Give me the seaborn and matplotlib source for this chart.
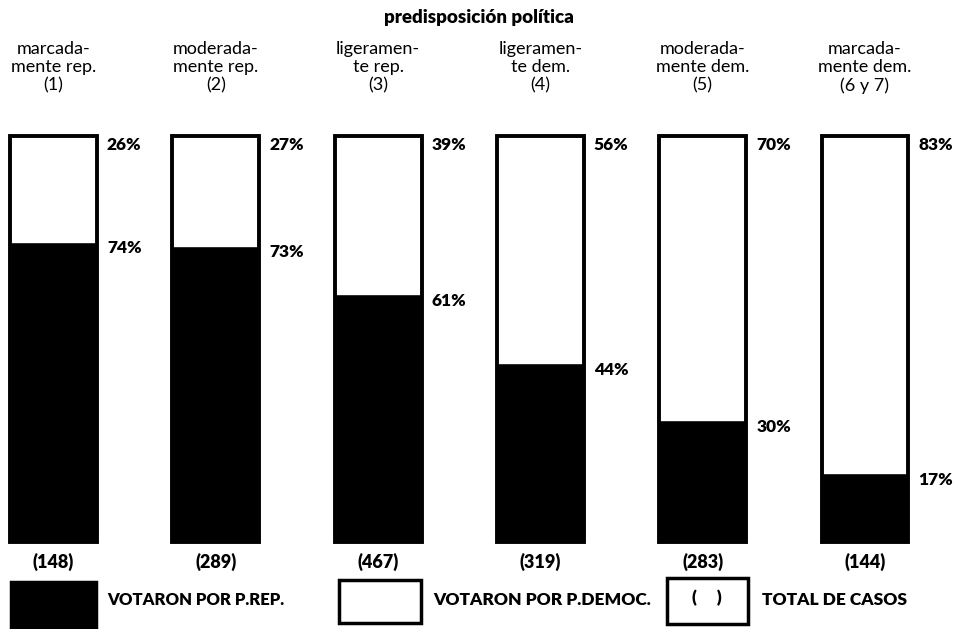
import pandas as pd
import matplotlib.pyplot as plt
import seaborn as sns
from matplotlib.patches import Rectangle

sns.set_theme(style="white")
plt.rcParams['font.family'] = ['Lato', 'DejaVu Sans']
plt.rcParams['text.color'] = 'black'

# data
categorias = [
    "marcada-\nmente rep.\n(1)",
    "moderada-\nmente rep.\n(2)",
    "ligeramen-\nte rep.\n(3)",
    "ligeramen-\nte dem.\n(4)",
    "moderada-\nmente dem.\n(5)",
    "marcada-\nmente dem.\n(6 y 7)",
]
pct_rep = [74, 73, 61, 44, 30, 17]
pct_dem = [26, 27, 39, 56, 70, 83]
total_casos = [148, 289, 467, 319, 283, 144]

df = pd.DataFrame({
    "cat": categorias,
    "rep": pct_rep,
    "dem": pct_dem,
    "total": [r + d for r, d in zip(pct_rep, pct_dem)],
})

W, H = 958, 629
fig = plt.figure(figsize=(W / 100, H / 100), dpi=100)
ax = fig.add_axes([0, 0, 1, 1])

bar_w = 0.535
# black part (rep), then outline for the whole bar
sns.barplot(data=df, x="cat", y="rep", color="black", width=bar_w,
            saturation=1, ax=ax)
sns.barplot(data=df, x="cat", y="total", fill=False, color="black",
            width=bar_w, linewidth=2.8, ax=ax)

# pixel mapping: center of bar 0 at x=53.5, spacing 162.3; y 0 at 542, 100 at 136
px_unit_x = 162.3
px_unit_y = (542 - 136) / 100
ax.set_xlim(-53.5 / px_unit_x, (W - 53.5) / px_unit_x)
ax.set_ylim(-(H - 542) / px_unit_y, 100 + 136 / px_unit_y)
ax.set_axis_off()

lbl_font = dict(fontsize=12.5, fontweight="heavy", color="black")
for i, row in df.iterrows():
    xr = i + bar_w / 2 + 10 / px_unit_x
    ax.text(xr, 100 - 0.2, f"{row['dem']}%", ha="left", va="top", **lbl_font)
    ax.text(xr, row["rep"] + 0.3, f"{row['rep']}%", ha="left", va="top", **lbl_font)
    ax.text(i, -2.6, f"({total_casos[i]})", ha="center", va="top",
            fontsize=13, fontweight="heavy")
    ax.text(i, 100 + 95 / px_unit_y, row["cat"], ha="center", va="top",
            fontsize=13, linespacing=1.15, color="black")

fig.text(0.5, 1 - 18 / H, "predisposición política", ha="center", va="center",
         fontsize=13.5, fontweight="heavy")

# legend drawn in figure pixels
def box(x0, y0, x1, y1, filled):
    fig.patches.append(Rectangle((x0 / W, 1 - y1 / H), (x1 - x0) / W, (y1 - y0) / H,
                                 transform=fig.transFigure,
                                 facecolor="black" if filled else "white",
                                 edgecolor="black", linewidth=2.5))

box(11, 582, 96, 627, True)
box(339, 580, 421, 623, False)
box(667, 578, 748, 624, False)
fig.text(107 / W, 1 - 600 / H, "VOTARON POR P.REP.", ha="left", va="center",
         fontsize=12, fontweight="heavy")
fig.text(433 / W, 1 - 600 / H, "VOTARON POR P.DEMOC.", ha="left", va="center",
         fontsize=12.5, fontweight="heavy")
fig.text(707 / W, 1 - 598 / H, "(     )", ha="center", va="center",
         fontsize=12.5, fontweight="heavy")
fig.text(762 / W, 1 - 600 / H, "TOTAL DE CASOS", ha="left", va="center",
         fontsize=12.5, fontweight="heavy")

fig.savefig("out.png", dpi=100)
